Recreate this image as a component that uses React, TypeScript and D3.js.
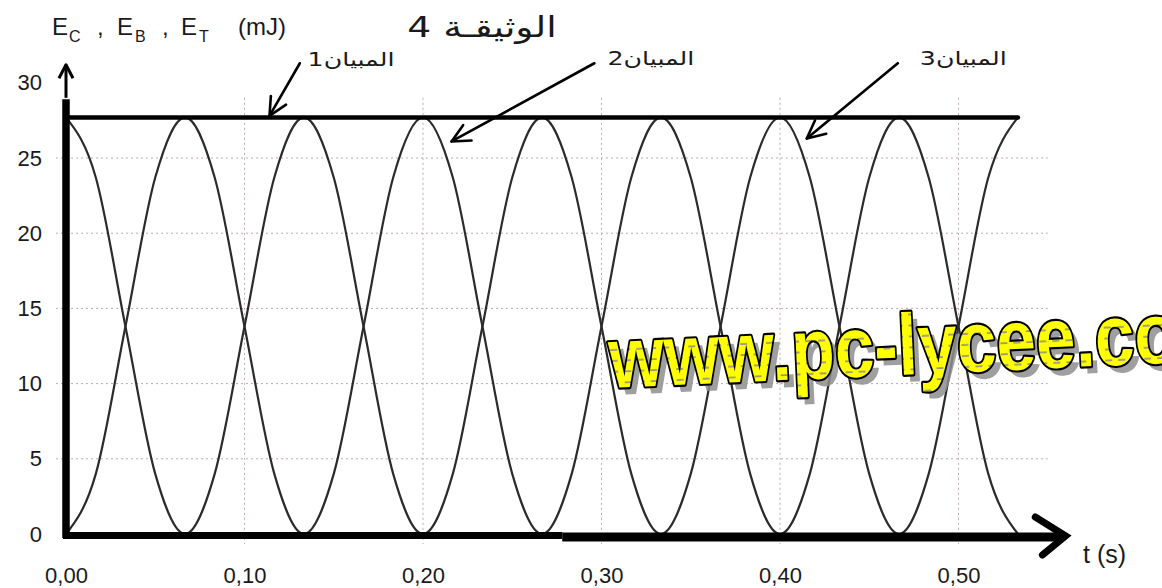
import { useRef, useEffect } from "react";
import * as d3 from "d3";

// time samples (s)
const TIME = [
  0, 0.0167, 0.0333, 0.05, 0.0667, 0.0833, 0.1, 0.1167, 0.1333, 0.15, 0.1667,
  0.1833, 0.2, 0.2167, 0.2333, 0.25, 0.2667, 0.2833, 0.3, 0.3167, 0.3333, 0.35,
  0.3667, 0.3833, 0.4, 0.4167, 0.4333, 0.45, 0.4667, 0.4833, 0.5, 0.5167, 0.5333,
];
// curve starting at 0 (mJ)
const EC = [
  0, 4.0, 13.8, 23.7, 27.7, 23.7, 13.8, 4.0, 0, 4.0, 13.8, 23.7, 27.7, 23.7, 13.8,
  4.0, 0, 4.0, 13.8, 23.7, 27.7, 23.7, 13.8, 4.0, 0, 4.0, 13.8, 23.7, 27.7, 23.7,
  13.8, 4.0, 0,
];
// curve starting at max (mJ)
const EP = [
  27.7, 23.7, 13.8, 4.0, 0, 4.0, 13.8, 23.7, 27.7, 23.7, 13.8, 4.0, 0, 4.0, 13.8,
  23.7, 27.7, 23.7, 13.8, 4.0, 0, 4.0, 13.8, 23.7, 27.7, 23.7, 13.8, 4.0, 0, 4.0,
  13.8, 23.7, 27.7,
];
// total energy line
const ET_TIME = [0, 0.5333];
const ET = [27.7, 27.7];

const X_TICKS = [0, 0.1, 0.2, 0.3, 0.4, 0.5];
const X_LABELS = ["0,00", "0,10", "0,20", "0,30", "0,40", "0,50"];
const Y_TICKS = [0, 5, 10, 15, 20, 25, 30];
const Y_LABELS = ["0", "5", "10", "15", "20", "25", "30"];

// annotations: label, label right end (t, E), arrow start (t, E), arrow tip (t, E)
const NOTE_LABELS = ["المبيان1", "المبيان2", "المبيان3"];
const NOTE_TEXT_POS: [number, number][] = [[0.184, 31.1], [0.352, 31.2], [0.527, 31.2]];
const NOTE_FROM: [number, number][] = [[0.131, 31.3], [0.296, 31.3], [0.466, 31.3]];
const NOTE_TO: [number, number][] = [[0.114, 27.8], [0.216, 26.1], [0.415, 26.3]];

const FONT = "'Liberation Sans', Arial, sans-serif";
const AR_FONT = "'DejaVu Sans', sans-serif";

export default function App() {
  const svgRef = useRef<SVGSVGElement>(null);

  useEffect(() => {
    if (!svgRef.current) return;
    const width = 1162;
    const height = 588;
    const svg = d3.select(svgRef.current);
    svg.selectAll("*").remove();
    svg.attr("width", width).attr("height", height);

    const x = d3.scaleLinear().domain([0, 0.5]).range([66, 958.5]);
    const y = d3.scaleLinear().domain([0, 30]).range([534, 82.8]);

    svg.append("rect").attr("width", width).attr("height", height).attr("fill", "#fff");

    const defs = svg.append("defs");
    const pat = defs
      .append("pattern")
      .attr("id", "wm-fill")
      .attr("patternUnits", "userSpaceOnUse")
      .attr("width", 13)
      .attr("height", 9);
    pat.append("rect").attr("width", 13).attr("height", 9).attr("fill", "#ffff00");
    pat.append("line").attr("x1", 2).attr("x2", 9).attr("y1", 5).attr("y2", 5)
      .attr("stroke", "#9a9a7a").attr("stroke-width", 1.5);

    // dotted grid
    const grid = svg.append("g").attr("stroke", "#b9aab4").attr("stroke-width", 1)
      .attr("stroke-dasharray", "2,3");
    grid.selectAll("line.v")
      .data(X_TICKS.slice(1))
      .join("line")
      .attr("class", "v")
      .attr("x1", (d) => x(d)).attr("x2", (d) => x(d))
      .attr("y1", y(29)).attr("y2", y(0) + 10);
    grid.selectAll("line.h")
      .data(Y_TICKS.slice(1, -1))
      .join("line")
      .attr("class", "h")
      .attr("x1", x(0) - 10).attr("x2", x(0.55))
      .attr("y1", (d) => y(d)).attr("y2", (d) => y(d));

    // energy curves
    const line = d3
      .line<number>()
      .x((_, i) => x(TIME[i]))
      .y((d) => y(d))
      .curve(d3.curveMonotoneX);
    [EC, EP].forEach((s) => {
      svg.append("path")
        .datum(s)
        .attr("fill", "none")
        .attr("stroke", "#2b2b2b")
        .attr("stroke-width", 2.2)
        .attr("d", line);
    });

    svg.append("path")
      .datum(ET)
      .attr("fill", "none")
      .attr("stroke", "#000")
      .attr("stroke-width", 4.5)
      .attr("stroke-linecap", "round")
      .attr("d", d3.line<number>().x((_, i) => x(ET_TIME[i])).y((d) => y(d)));

    // axes (thick, hand-drawn style)
    const ax = svg.append("g").attr("stroke", "#000").attr("fill", "none");
    ax.append("line").attr("x1", x(0)).attr("x2", x(0))
      .attr("y1", y(0) + 4).attr("y2", y(28.9)).attr("stroke-width", 7.5);
    ax.append("line").attr("x1", x(0)).attr("x2", x(0))
      .attr("y1", y(29)).attr("y2", y(31.2)).attr("stroke-width", 3);
    ax.append("polyline")
      .attr("points", `${x(0) - 7},${y(30.3)} ${x(0)},${y(31.2)} ${x(0) + 7},${y(30.3)}`)
      .attr("stroke-width", 3).attr("stroke-linejoin", "round");
    ax.append("line").attr("x1", x(0) - 3).attr("x2", x(0.278))
      .attr("y1", y(0) + 1.5).attr("y2", y(0) + 1.5).attr("stroke-width", 7);
    ax.append("line").attr("x1", x(0.278)).attr("x2", x(0.558))
      .attr("y1", y(0) + 3).attr("y2", y(0) + 3).attr("stroke-width", 9);
    ax.append("polyline")
      .attr("points", `${x(0.543)},${y(0) - 17} ${x(0.56)},${y(0) + 2} ${x(0.547)},${y(0) + 21}`)
      .attr("stroke-width", 7).attr("stroke-linejoin", "miter").attr("stroke-linecap", "round");

    // tick labels
    svg.append("g")
      .attr("transform", `translate(${x(0)},0)`)
      .call(d3.axisLeft(y).tickValues(Y_TICKS).tickSize(0).tickPadding(24)
        .tickFormat((_, i) => Y_LABELS[i]))
      .call((g) => g.select(".domain").remove())
      .attr("font-family", FONT)
      .attr("font-size", 22)
      .selectAll("text")
      .attr("fill", "#1a1a1a");

    svg.append("g")
      .attr("transform", `translate(0,${y(0)})`)
      .call(d3.axisBottom(x).tickValues(X_TICKS).tickSize(0).tickPadding(33)
        .tickFormat((_, i) => X_LABELS[i]))
      .call((g) => g.select(".domain").remove())
      .attr("font-family", FONT)
      .attr("font-size", 22)
      .selectAll("text")
      .attr("fill", "#1a1a1a");

    svg.append("text")
      .attr("x", 1083).attr("y", 563)
      .attr("font-family", FONT).attr("font-size", 25).attr("fill", "#1a1a1a")
      .text("t (s)");

    // y-axis title, pieces placed along the line
    const yt = svg.append("g")
      .attr("font-family", FONT).attr("fill", "#1a1a1a");
    const parts: [string, number, boolean][] = [
      ["E", 52, false], ["C", 69, true], [",", 97, false],
      ["E", 117, false], ["B", 135, true], [",", 162, false],
      ["E", 181, false], ["T", 199, true], ["(mJ)", 238, false],
    ];
    parts.forEach(([t, px, isSub]) => {
      yt.append("text")
        .attr("x", px).attr("y", isSub ? 42 : 35)
        .attr("font-size", isSub ? 16 : 24)
        .text(t);
    });

    // document title
    svg.append("text")
      .attr("transform", "translate(482,37) scale(1.3,1)")
      .attr("text-anchor", "middle")
      .attr("font-family", AR_FONT).attr("font-size", 29).attr("fill", "#1a1a1a")
      .text("الوثيقـة 4");

    // annotations
    NOTE_LABELS.forEach((lab, i) => {
      svg.append("text")
        .attr("transform", `translate(${x(NOTE_TEXT_POS[i][0])},${y(NOTE_TEXT_POS[i][1])}) scale(1.33,1)`)
        .attr("text-anchor", "end")
        .attr("font-family", AR_FONT).attr("font-size", 19).attr("fill", "#1a1a1a")
        .text(lab);
      const x0 = x(NOTE_FROM[i][0]), y0 = y(NOTE_FROM[i][1]);
      const x1 = x(NOTE_TO[i][0]), y1 = y(NOTE_TO[i][1]);
      const a = Math.atan2(y0 - y1, x0 - x1);
      const L = 20, spread = (26 * Math.PI) / 180;
      const g = svg.append("g").attr("stroke", "#000").attr("stroke-width", 2.6)
        .attr("fill", "none").attr("stroke-linecap", "round").attr("stroke-linejoin", "round");
      g.append("line").attr("x1", x0).attr("y1", y0).attr("x2", x1).attr("y2", y1);
      g.append("polyline").attr("points", [
        [x1 + L * Math.cos(a - spread), y1 + L * Math.sin(a - spread)],
        [x1, y1],
        [x1 + L * Math.cos(a + spread), y1 + L * Math.sin(a + spread)],
      ].map((p) => p.join(",")).join(" "));
    });

    // watermark
    const wm = svg.append("g")
      .attr("transform", "translate(610,388) rotate(-2.6) scale(1,1.22)");
    wm.append("text")
      .attr("x", 6).attr("y", 6)
      .attr("font-family", FONT).attr("font-weight", "bold").attr("font-size", 71)
      .attr("fill", "#8f8f8f").attr("opacity", 0.85)
      .text("www.pc-lycee.com");
    wm.append("text")
      .attr("font-family", FONT).attr("font-weight", "bold").attr("font-size", 71)
      .attr("fill", "url(#wm-fill)").attr("stroke", "#000").attr("stroke-width", 3.5)
      .attr("stroke-linejoin", "round").attr("paint-order", "stroke")
      .text("www.pc-lycee.com");
  }, []);

  return (
    <svg
      ref={svgRef}
      width={1162}
      height={588}
      style={{ position: "absolute", left: 0, top: 0, display: "block" }}
    />
  );
}
